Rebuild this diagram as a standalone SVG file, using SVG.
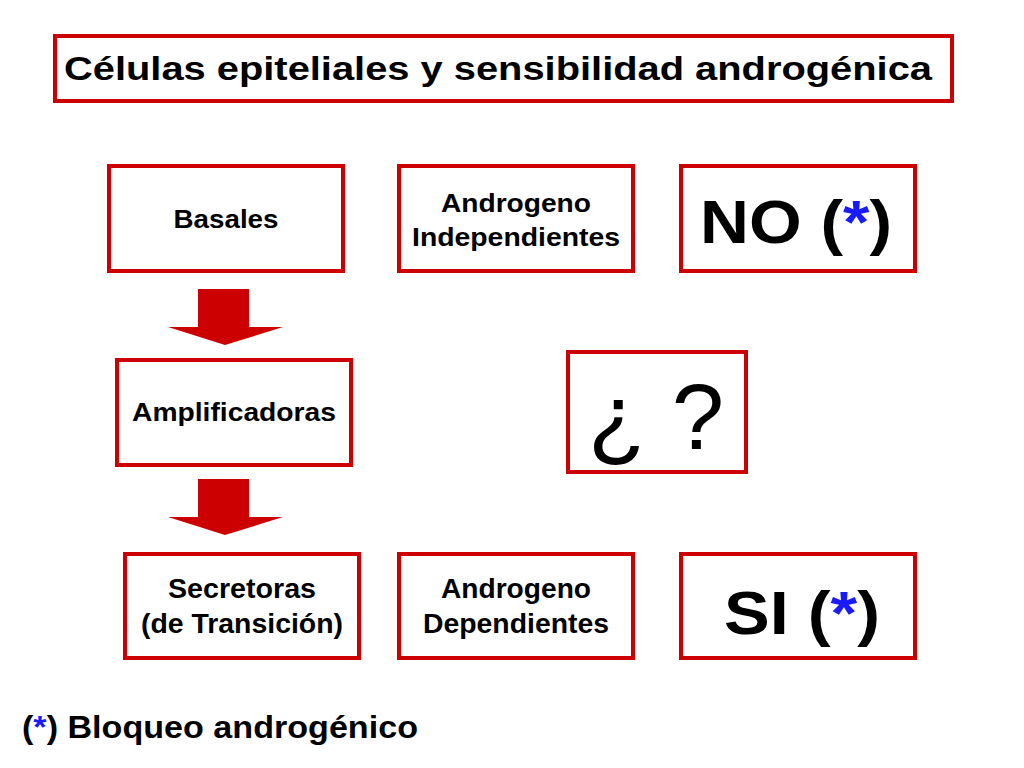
<svg xmlns="http://www.w3.org/2000/svg" width="1024" height="768" viewBox="0 0 1024 768">
<style>
.b{fill:#fff;stroke:#cc0000;stroke-width:4}
text{font-family:"Liberation Sans",Arial,sans-serif;font-weight:bold;fill:#000}
.s{font-size:25px;text-anchor:middle}
.m{font-size:27px;text-anchor:middle}
.a{fill:#cc0000}
.blue{fill:#1a1aff}
.q{font-weight:normal;font-size:92px;text-anchor:middle}
</style>
<rect width="1024" height="768" fill="#fff"/>
<g id="title"><rect class="b" x="55" y="36" width="897" height="65" stroke-width="5"/><text x="64" y="80" font-size="34" textLength="868" lengthAdjust="spacingAndGlyphs">Células epiteliales y sensibilidad androgénica</text></g>
<g id="basales"><rect class="b" x="109" y="166" width="234" height="105"/><text class="s" x="226" y="228" textLength="105" lengthAdjust="spacingAndGlyphs">Basales</text></g>
<g id="indep"><rect class="b" x="399" y="166" width="234" height="105"/><text class="s" x="516" y="212" textLength="150" lengthAdjust="spacingAndGlyphs">Androgeno</text><text class="s" x="516" y="246" textLength="208" lengthAdjust="spacingAndGlyphs">Independientes</text></g>
<g id="no"><rect class="b" x="681" y="166" width="234" height="105"/><text x="796" y="243" font-size="62" text-anchor="middle" textLength="192" lengthAdjust="spacingAndGlyphs">NO (<tspan class="blue">*</tspan>)</text></g>
<g id="ampl"><rect class="b" x="117" y="360" width="234" height="105"/><text class="s" x="234" y="421" textLength="204" lengthAdjust="spacingAndGlyphs">Amplificadoras</text></g>
<g id="q"><rect class="b" x="568" y="352" width="178" height="120" stroke-width="7"/><text class="q" x="656" y="449" textLength="136" lengthAdjust="spacingAndGlyphs">¿ ?</text></g>
<g id="secr"><rect class="b" x="125" y="554" width="234" height="104"/><text class="m" x="242" y="598" textLength="148" lengthAdjust="spacingAndGlyphs">Secretoras</text><text class="m" x="242" y="633" textLength="202" lengthAdjust="spacingAndGlyphs">(de Transición)</text></g>
<g id="dep"><rect class="b" x="399" y="554" width="234" height="104"/><text class="m" x="516" y="598" textLength="150" lengthAdjust="spacingAndGlyphs">Androgeno</text><text class="m" x="516" y="633" textLength="186" lengthAdjust="spacingAndGlyphs">Dependientes</text></g>
<g id="si"><rect class="b" x="681" y="554" width="234" height="104"/><text x="802" y="634" font-size="62" text-anchor="middle" textLength="156" lengthAdjust="spacingAndGlyphs">SI (<tspan class="blue">*</tspan>)</text></g>
<g id="connectors">
<polygon class="a" points="198,289 249,289 249,327 283,327 225,345 168,327 198,327"/>
<polygon class="a" points="198,479 249,479 249,517 283,517 225,535 168,517 198,517"/>
</g>
<text x="22" y="738" font-size="31" textLength="396" lengthAdjust="spacingAndGlyphs">(<tspan class="blue">*</tspan>) Bloqueo androgénico</text>
</svg>
